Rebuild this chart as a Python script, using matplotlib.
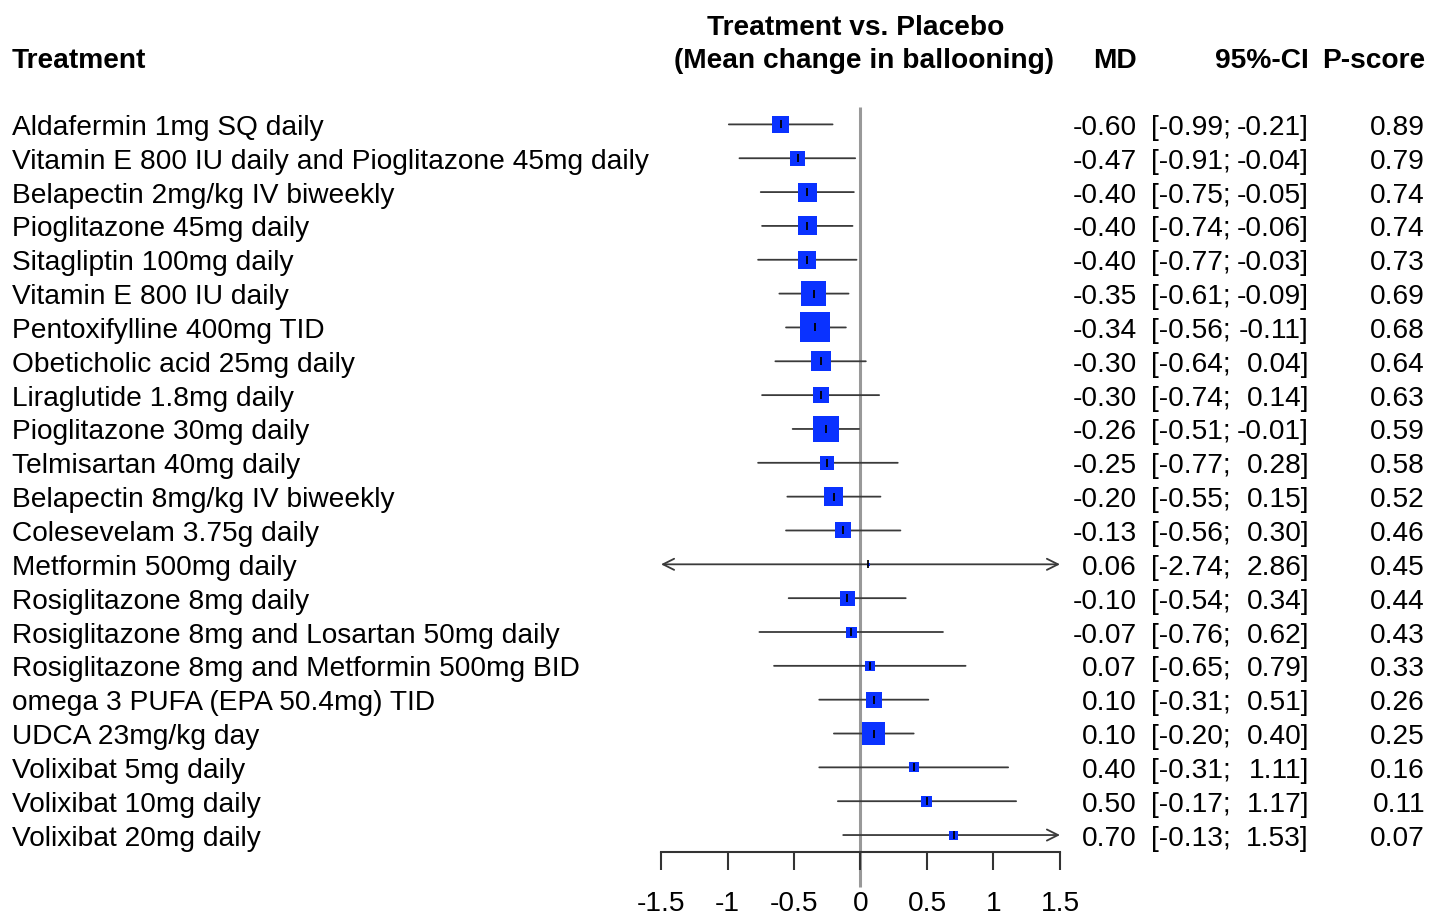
import matplotlib
matplotlib.use('Agg')
import matplotlib.pyplot as plt
from matplotlib.transforms import blended_transform_factory

plt.rcParams['font.family'] = ['Liberation Sans', 'DejaVu Sans']

treatments = [
    "Aldafermin 1mg SQ daily",
    "Vitamin E 800 IU daily and Pioglitazone 45mg daily",
    "Belapectin 2mg/kg IV biweekly",
    "Pioglitazone 45mg daily",
    "Sitagliptin 100mg daily",
    "Vitamin E 800 IU daily",
    "Pentoxifylline 400mg TID",
    "Obeticholic acid 25mg daily",
    "Liraglutide 1.8mg daily",
    "Pioglitazone 30mg daily",
    "Telmisartan 40mg daily",
    "Belapectin 8mg/kg IV biweekly",
    "Colesevelam 3.75g daily",
    "Metformin 500mg daily",
    "Rosiglitazone 8mg daily",
    "Rosiglitazone 8mg and Losartan 50mg daily",
    "Rosiglitazone 8mg and Metformin 500mg BID",
    "omega 3 PUFA (EPA 50.4mg) TID",
    "UDCA 23mg/kg day",
    "Volixibat 5mg daily",
    "Volixibat 10mg daily",
    "Volixibat 20mg daily",
]
md = [-0.60, -0.47, -0.40, -0.40, -0.40, -0.35, -0.34, -0.30, -0.30, -0.26, -0.25,
      -0.20, -0.13, 0.06, -0.10, -0.07, 0.07, 0.10, 0.10, 0.40, 0.50, 0.70]
ci_lower = [-0.99, -0.91, -0.75, -0.74, -0.77, -0.61, -0.56, -0.64, -0.74, -0.51, -0.77,
            -0.55, -0.56, -2.74, -0.54, -0.76, -0.65, -0.31, -0.20, -0.31, -0.17, -0.13]
ci_upper = [-0.21, -0.04, -0.05, -0.06, -0.03, -0.09, -0.11, 0.04, 0.14, -0.01, 0.28,
            0.15, 0.30, 2.86, 0.34, 0.62, 0.79, 0.51, 0.40, 1.11, 1.17, 1.53]
pscore = [0.89, 0.79, 0.74, 0.74, 0.73, 0.69, 0.68, 0.64, 0.63, 0.59, 0.58,
          0.52, 0.46, 0.45, 0.44, 0.43, 0.33, 0.26, 0.25, 0.16, 0.11, 0.07]
# relative square size (weight)
weights = [17, 15, 19, 19, 18, 25, 30, 20, 16, 26, 14, 19, 16, 3, 15, 11, 10, 16, 23, 10, 11, 9]

xticks = [-1.5, -1, -0.5, 0, 0.5, 1, 1.5]
xtick_labels = ['-1.5', '-1', '-0.5', '0', '0.5', '1', '1.5']

W, H = 1447, 918
fig = plt.figure(figsize=(W / 100, H / 100), dpi=100)
ax_left, ax_right, ax_top, ax_bot = 661, 1060, 100, 852
ax = fig.add_axes([ax_left / W, 1 - ax_bot / H, (ax_right - ax_left) / W, (ax_bot - ax_top) / H])

n = len(treatments)
rows = list(range(1, n + 1))
row_px0, row_sp = 124.4, 33.84
y_top = 1 - (row_px0 - ax_top) / row_sp
y_bot = 1 + (ax_bot - row_px0) / row_sp
ax.set_ylim(y_bot, y_top)
ax.set_xlim(-1.5, 1.5)

# reference line
ax.plot([0, 0], [y_top + (107 - ax_top) / row_sp, y_top + (887 - ax_top) / row_sp],
        color='#999999', lw=2.2, clip_on=False, zorder=1, solid_capstyle='butt')

xmin, xmax = -1.5, 1.5
for y, lo, hi in zip(rows, ci_lower, ci_upper):
    l = max(lo, xmin)
    h = min(hi, xmax)
    if lo < xmin and hi > xmax:
        style = '<->'
    elif hi > xmax:
        style = '->'
    elif lo < xmin:
        style = '<-'
    else:
        style = '-'
    ax.annotate('', xy=(h, y), xytext=(l, y),
                arrowprops=dict(arrowstyle=style, color='#3a3a3a', lw=1.3,
                                shrinkA=0, shrinkB=0, mutation_scale=20),
                zorder=2)

ax.scatter(md, rows, s=[(w * 0.72) ** 2 for w in weights], marker='s',
           color='#0a32ff', linewidths=0, zorder=3)
ax.scatter(md, rows, s=40, marker='|', color='black', linewidths=1.3, zorder=4)

for s in ['left', 'right', 'top']:
    ax.spines[s].set_visible(False)
ax.spines['bottom'].set_color('#333333')
ax.spines['bottom'].set_linewidth(1.5)
ax.set_yticks([])
ax.set_xticks(xticks)
ax.set_xticklabels(xtick_labels)
ax.tick_params(axis='x', length=13, width=1.5, color='#333333', labelsize=20.25, pad=15)
ax.patch.set_visible(False)

fs = 20.25
dy = 3.5 / row_sp  # small downward text offset
tr = blended_transform_factory(fig.transFigure, ax.transData)
for y, name, m, lo, hi, p in zip(rows, treatments, md, ci_lower, ci_upper, pscore):
    yt = y + dy
    fig.text(12 / W, yt, name, transform=tr, ha='left', va='center', fontsize=fs)
    fig.text(1137 / W, yt, f"{m:.2f}", transform=tr, ha='right', va='center', fontsize=fs)
    fig.text(1151 / W, yt, f"[{lo:.2f};", transform=tr, ha='left', va='center', fontsize=fs)
    fig.text(1309 / W, yt, f"{hi:.2f}]", transform=tr, ha='right', va='center', fontsize=fs)
    fig.text(1425 / W, yt, f"{p:.2f}", transform=tr, ha='right', va='center', fontsize=fs)

def ftext(xp, yp, s, ha):
    fig.text(xp / W, 1 - yp / H, s, ha=ha, va='center', fontsize=fs, fontweight='bold')

ftext(12, 61, "Treatment", 'left')
ftext(856, 28, "Treatment vs. Placebo", 'center')
ftext(864, 61, "(Mean change in ballooning)", 'center')
ftext(1137, 61, "MD", 'right')
ftext(1309, 61, "95%-CI", 'right')
ftext(1425, 61, "P-score", 'right')

fig.savefig('out.png', dpi=100)
